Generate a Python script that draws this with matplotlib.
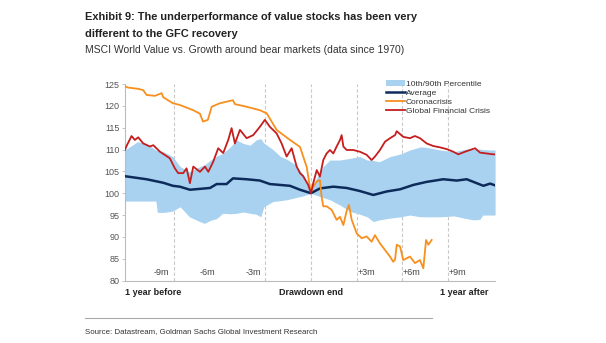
import numpy as np
import matplotlib.pyplot as plt

# months relative to the end of the drawdown
orange_x = [-12.24, -12.04, -11.36, -11.03, -10.81, -10.26, -9.82, -9.72, -9.08, -8.62, -7.74, -7.3, -7.1,
            -6.78, -6.53, -5.99, -5.13, -5.0, -4.23, -3.36, -2.91, -2.26, -1.38, -0.72, -0.28, -0.07, 0.0,
            0.15, 0.38, 0.59, 0.7, 0.81, 1.03, 1.36, 1.69, 1.91, 2.13, 2.35, 2.5, 2.68, 3.01, 3.34, 3.66,
            3.99, 4.21, 4.54, 4.87, 5.2, 5.41, 5.53, 5.64, 5.86, 6.07, 6.51, 6.84, 7.17, 7.39, 7.57, 7.72, 7.94]
orange_y = [124.5, 124.2, 123.9, 123.6, 122.5, 122.3, 122.9, 122.0, 120.6, 120.2, 119.0, 118.2, 116.4,
            116.8, 119.8, 120.6, 121.3, 120.4, 119.8, 119.0, 118.3, 114.5, 112.2, 110.6, 106.0, 101.5, 100.2,
            101.5, 102.7, 103.0, 99.2, 97.0, 97.0, 96.2, 93.9, 94.6, 92.7, 96.0, 97.3, 93.9, 90.8, 89.7, 90.1,
            88.9, 90.4, 88.5, 87.0, 85.5, 84.3, 84.8, 88.2, 87.8, 84.7, 85.5, 84.0, 84.7, 82.8, 89.3, 88.2, 89.3]

red_x = [-12.24, -12.1, -11.8, -11.58, -11.36, -11.03, -10.59, -10.37, -9.93, -9.28, -8.95, -8.73, -8.4,
         -8.18, -7.96, -7.74, -7.3, -6.97, -6.75, -6.43, -6.1, -5.77, -5.44, -5.22, -5.0, -4.67, -4.23,
         -3.8, -3.36, -3.03, -2.7, -2.26, -1.93, -1.6, -1.27, -0.94, -0.72, -0.51, -0.18, 0.0, 0.15, 0.38,
         0.59, 0.81, 1.03, 1.25, 1.47, 1.69, 1.91, 2.02, 2.13, 2.35, 2.78, 3.22, 3.66, 3.99, 4.21, 4.54,
         4.87, 5.2, 5.53, 5.64, 6.07, 6.51, 6.84, 7.17, 7.61, 8.05, 8.49, 8.93, 9.36, 9.69, 10.13, 10.46,
         10.79, 11.12, 11.56, 12.0, 12.11]
red_y = [109.9, 111.0, 113.1, 112.2, 112.8, 111.4, 110.7, 111.0, 109.5, 108.0, 105.7, 104.6, 104.6,
         105.7, 102.3, 106.1, 104.9, 106.1, 104.9, 107.2, 110.3, 109.2, 112.2, 114.9, 111.4, 114.5, 112.6,
         113.3, 115.2, 116.8, 115.2, 113.7, 111.4, 108.4, 110.3, 106.1, 104.6, 103.9, 101.9, 100.0, 102.3, 105.3,
         103.8, 107.6, 109.1, 109.9, 109.1, 110.7, 112.2, 113.3, 110.7, 109.9, 109.9, 109.5, 108.8, 107.6, 108.4, 109.9,
         111.8, 112.6, 113.3, 114.2, 112.9, 112.6, 113.1, 112.6, 111.4, 110.8, 110.5, 110.1, 109.5, 108.9, 109.5, 109.9,
         110.3, 109.3, 109.1, 108.9, 108.9]

avg_x = [-12.24, -10.81, -9.72, -9.08, -8.62, -7.96, -7.3, -6.64, -6.2, -5.55, -5.13, -4.23, -3.36, -2.7,
         -2.04, -1.38, -0.72, 0.0, 0.59, 1.47, 2.35, 3.22, 4.1, 4.98, 5.86, 6.73, 7.61, 8.7, 9.59, 10.24,
         10.9, 11.34, 11.78, 12.11]
avg_y = [103.9, 103.2, 102.4, 101.7, 101.5, 100.8, 101.0, 101.2, 102.1, 102.1, 103.4, 103.2, 102.9, 102.1,
         101.9, 101.7, 100.8, 100.0, 101.1, 101.5, 101.2, 100.5, 99.6, 100.4, 100.9, 101.9, 102.6, 103.2, 102.9, 103.2,
         102.3, 101.7, 102.2, 101.8]

band_x = [-12.24, -11.4, -10.8, -10.2, -10.1, -9.7, -9.1, -8.6, -8.0, -7.3, -7.0, -6.6, -6.2, -5.8, -5.3,
          -4.9, -4.45, -4.0, -3.6, -3.3, -3.1, -2.5, -2.0, -1.6, -1.0, -0.5, 0.0, 0.3, 0.8, 1.25, 1.9, 2.6,
          3.2, 3.7, 4.1, 4.5, 5.2, 5.9, 6.5, 7.2, 7.6, 8.5, 9.4, 10.2, 10.7, 11.1, 11.3, 11.8, 12.11]
band_hi = [109.9, 111.8, 111.3, 109.9, 109.8, 109.5, 108.4, 106.1, 104.9, 106.1, 106.5, 107.6, 108.5, 109.1, 110.6,
           112.2, 111.4, 111.0, 112.2, 112.5, 111.5, 110.0, 108.4, 107.8, 106.5, 104.2, 100.2, 103.0, 106.1, 107.6, 107.6, 108.0,
           108.4, 107.6, 107.5, 107.2, 108.4, 109.0, 109.9, 110.6, 110.5, 109.9, 109.5, 110.1, 110.1, 110.1, 110.0, 109.9, 109.9]
band_lo = [98.2, 98.2, 98.2, 98.2, 95.6, 95.6, 95.9, 96.9, 94.6, 93.5, 93.1, 93.8, 94.2, 95.4, 95.3,
           95.4, 95.7, 95.4, 95.2, 94.6, 96.9, 98.1, 98.3, 98.5, 99.0, 99.4, 100.0, 99.6, 99.0, 98.5, 97.3, 95.8,
           95.2, 94.6, 93.5, 93.9, 94.3, 94.6, 95.0, 94.6, 94.6, 94.6, 94.8, 94.2, 93.9, 94.0, 95.0, 95.0, 95.0]

month_marks = [-9, -3, 0, 3, 6, 9]
month_labels = {-9: '-9m', -6: '-6m', -3: '-3m', 3: '+3m', 6: '+6m', 9: '+9m'}

plt.rcParams['font.family'] = ['Liberation Sans', 'DejaVu Sans']

fig = plt.figure(figsize=(6.06, 3.43), dpi=100)
ax = fig.add_axes([0.206, 0.182, 0.611, 0.573])

for m in month_marks:
    ax.axvline(m, color='#c8c8c8', lw=0.8, ls=(0, (3, 2)), zorder=0.5)

ax.fill_between(band_x, band_lo, band_hi, color='#a9d2f0', lw=0, label='10th/90th Percentile', zorder=1)
ax.plot(avg_x, avg_y, color='#0d2b5a', lw=1.8, label='Average', zorder=3)
ax.plot(orange_x, orange_y, color='#f7901e', lw=1.3, label='Coronacrisis', zorder=4)
ax.plot(red_x, red_y, color='#c41e1e', lw=1.3, label='Global Financial Crisis', zorder=5)

ax.set_xlim(-12.24, 12.11)
ax.set_ylim(80, 125)
ax.set_yticks(np.arange(80, 126, 5))
ax.set_xticks([])
ax.tick_params(axis='y', labelsize=6.5, labelcolor='#555555', color='#bbbbbb', length=2, width=0.6, pad=2)
for s in ['top', 'right']:
    ax.spines[s].set_visible(False)
for s in ['left', 'bottom']:
    ax.spines[s].set_color('#bbbbbb')
    ax.spines[s].set_linewidth(0.8)

for m, lab in month_labels.items():
    if m < 0:
        ax.text(m - 0.3, 81.8, lab, ha='right', va='center', fontsize=6.5, color='#444444')
    else:
        ax.text(m + 0.05, 81.8, lab, ha='left', va='center', fontsize=6.5, color='#444444')

xt = ax.get_xaxis_transform()
ax.text(-12.2, -0.06, '1 year before', transform=xt, ha='left', va='center', fontsize=6.5,
        fontweight='bold', color='#222222')
ax.text(0, -0.06, 'Drawdown end', transform=xt, ha='center', va='center', fontsize=6.5,
        fontweight='bold', color='#222222')
ax.text(11.7, -0.06, '1 year after', transform=xt, ha='right', va='center', fontsize=6.5,
        fontweight='bold', color='#222222')

leg = ax.legend(loc='upper right', bbox_to_anchor=(1.0, 1.045), frameon=False, fontsize=6,
                handlelength=2.3, handletextpad=0.1, labelspacing=0.15, borderaxespad=0.2)
for t in leg.get_texts():
    t.set_color('#333333')

fig.text(0.140, 0.950, 'Exhibit 9: The underperformance of value stocks has been very',
         fontsize=7.9, fontweight='bold', color='#222222', va='center')
fig.text(0.140, 0.900, 'different to the GFC recovery',
         fontsize=7.9, fontweight='bold', color='#222222', va='center')
fig.text(0.140, 0.855, 'MSCI World Value vs. Growth around bear markets (data since 1970)',
         fontsize=7.5, color='#333333', va='center')

fig.add_artist(plt.Line2D([0.140, 0.713], [0.073, 0.073], color='#aaaaaa', lw=0.8))
fig.text(0.140, 0.032, 'Source: Datastream, Goldman Sachs Global Investment Research',
         fontsize=5.7, color='#333333', va='center')

fig.savefig('out.png', dpi=100)
